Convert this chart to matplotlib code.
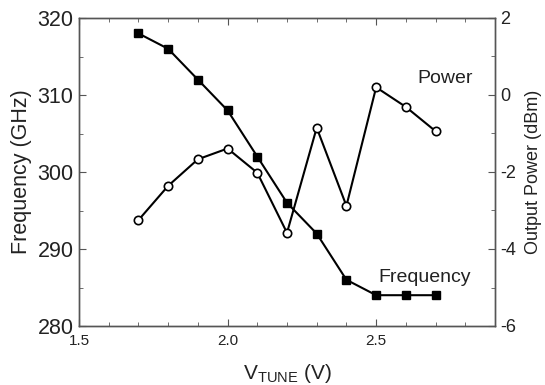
import matplotlib
matplotlib.use("Agg")
import matplotlib.pyplot as plt
from matplotlib.ticker import MultipleLocator

plt.rcParams['font.family'] = ['Liberation Sans', 'DejaVu Sans']
plt.rcParams['axes.unicode_minus'] = False

v_tune = [1.7, 1.8, 1.9, 2.0, 2.1, 2.2, 2.3, 2.4, 2.5, 2.6, 2.7]
frequency_ghz = [318, 316, 312, 308, 302, 296, 292, 286, 284, 284, 284]
power_dbm = [-3.25, -2.36, -1.67, -1.39, -2.02, -3.58, -0.85, -2.88, 0.2, -0.31, -0.94]

fig = plt.figure(figsize=(5.45, 3.85), dpi=100)
ax = fig.add_axes([79 / 545, 1 - 326 / 385, (495 - 79) / 545, (326 - 18) / 385])
ax2 = ax.twinx()

ax.plot(v_tune, frequency_ghz, color='black', lw=1.5, marker='s', ms=6,
        mfc='black', mec='black', zorder=3)
ax2.plot(v_tune, power_dbm, color='black', lw=1.5, marker='o', ms=6,
         mfc='white', mec='black', mew=1.2, zorder=3)

ax.set_xlim(1.5, 2.9)
ax.set_ylim(280, 320)
ax2.set_ylim(-6, 2)

ax.xaxis.set_major_locator(MultipleLocator(0.5))
ax.xaxis.set_minor_locator(MultipleLocator(0.1))
ax.yaxis.set_major_locator(MultipleLocator(10))
ax.yaxis.set_minor_locator(MultipleLocator(5))
ax2.yaxis.set_major_locator(MultipleLocator(2))
ax2.yaxis.set_minor_locator(MultipleLocator(1))

edge = '#555555'
text_color = '#222222'
for a in (ax, ax2):
    for s in a.spines.values():
        s.set_color(edge)
        s.set_linewidth(1.0)

ax.tick_params(axis='x', which='both', direction='in', top=True, colors=edge,
               labelcolor=text_color, labelsize=11, pad=6)
ax.tick_params(axis='x', which='major', length=5)
ax.tick_params(axis='x', which='minor', length=3)
ax.tick_params(axis='y', which='both', direction='in', colors=edge,
               labelcolor=text_color, labelsize=15.5, pad=4)
ax.tick_params(axis='y', which='major', length=5)
ax.tick_params(axis='y', which='minor', length=3)
ax2.tick_params(axis='y', which='both', direction='in', colors=edge,
                labelcolor=text_color, labelsize=13, pad=4)
ax2.tick_params(axis='y', which='major', length=5)
ax2.tick_params(axis='y', which='minor', length=3)

ax.set_xticks([1.5, 2.0, 2.5])
ax.set_xticklabels(['1.5', '2.0', '2.5'])

ax.set_xlabel(r'V$_{\mathregular{TUNE}}$ (V)', fontsize=15, color=text_color, labelpad=10)
ax.set_ylabel('Frequency (GHz)', fontsize=15.5, color=text_color, labelpad=4)
ax2.set_ylabel('Output Power (dBm)', fontsize=13, color=text_color, labelpad=6)

ax.text(2.731, 311.56, 'Power', fontsize=14, color=text_color, ha='center', va='baseline')
ax.text(2.663, 285.67, 'Frequency', fontsize=14, color=text_color, ha='center', va='baseline')

fig.savefig('out.png', dpi=100)
